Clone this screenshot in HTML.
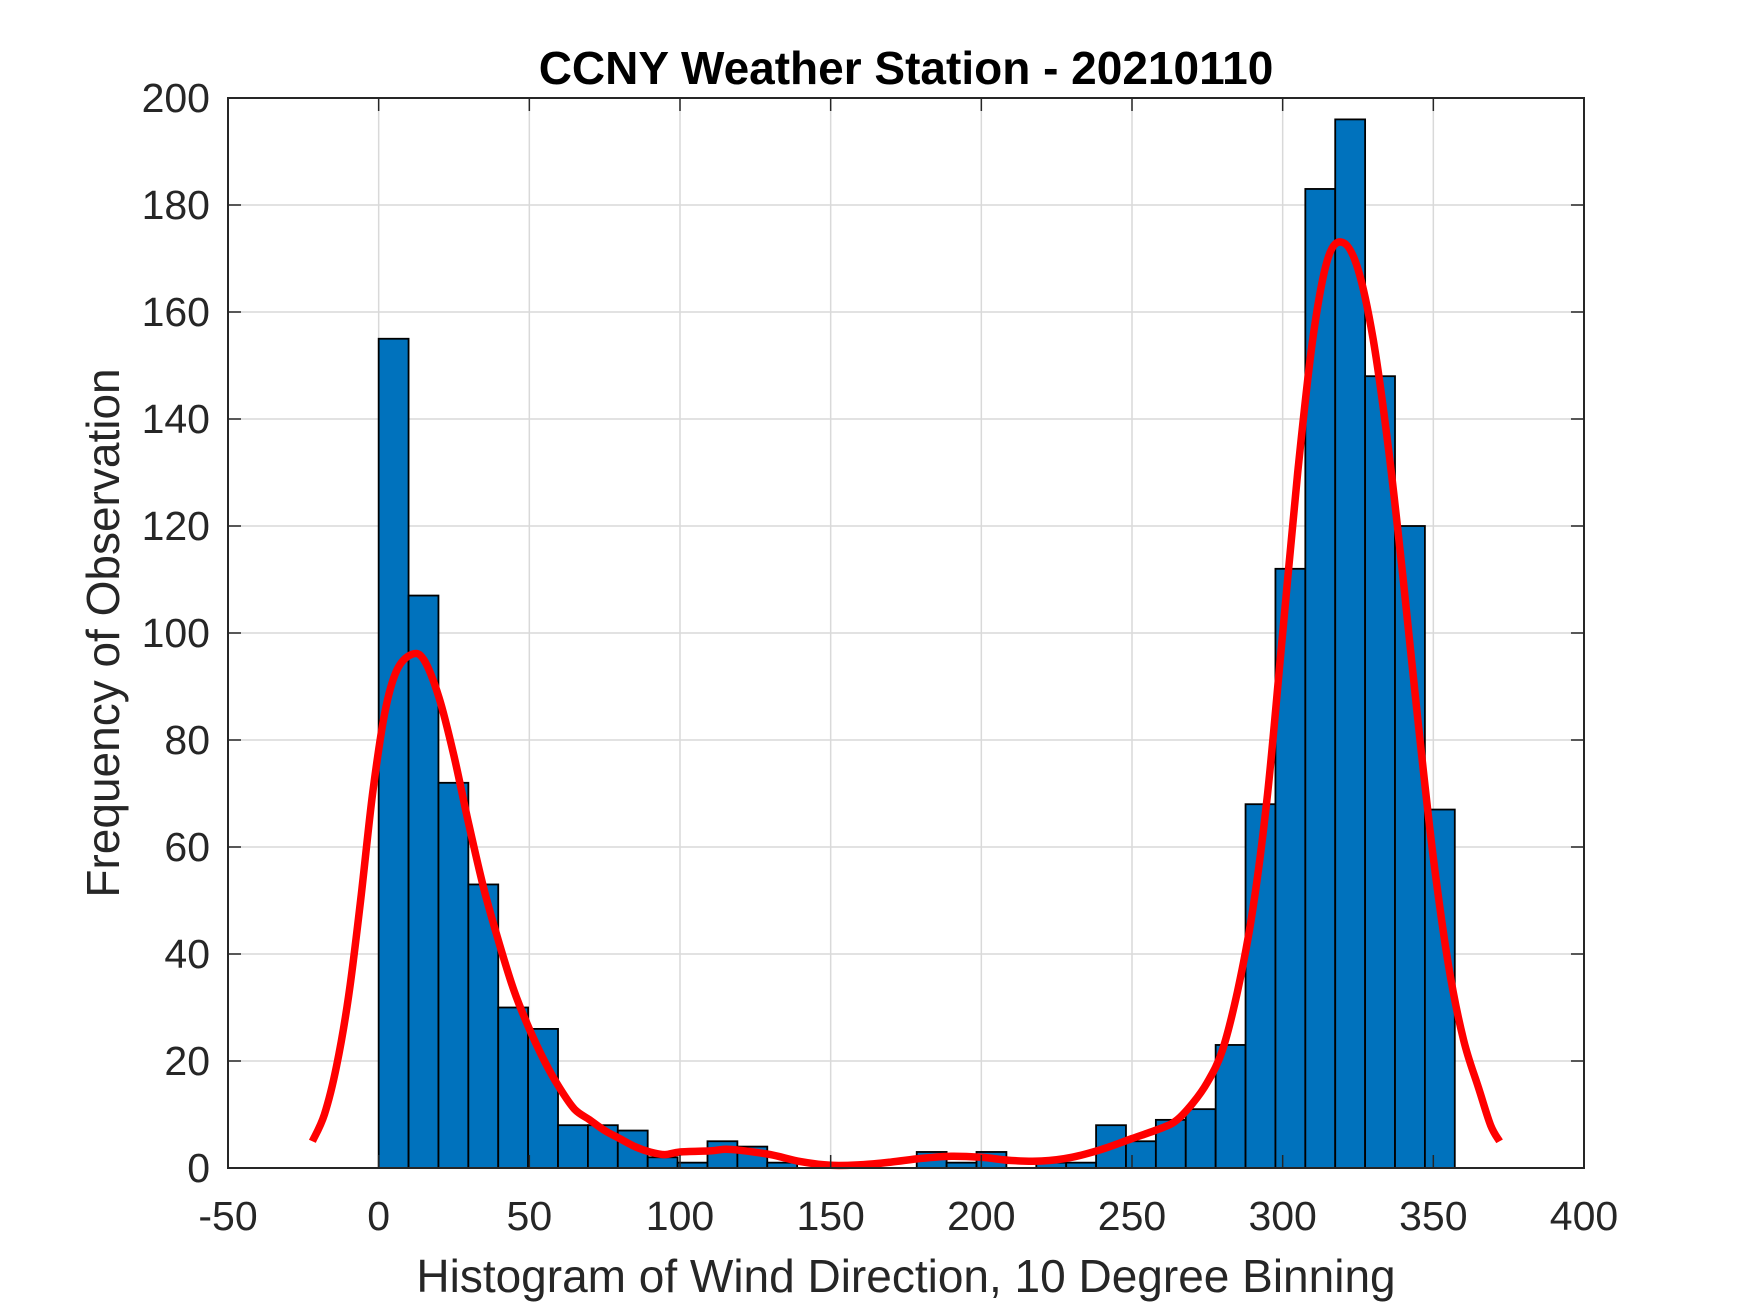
<!DOCTYPE html>
<html><head><meta charset="utf-8"><style>
html,body{margin:0;padding:0;background:#fff;}
svg{display:block;}
text{font-family:"Liberation Sans",Arial,sans-serif;fill:#262626;}
</style></head><body>
<svg id="chart" width="1750" height="1313" viewBox="0 0 1750 1313" xmlns="http://www.w3.org/2000/svg">
<rect width="1750" height="1313" fill="#fff"/>
<g id="grid"></g><g id="bars"></g><g id="curve"></g><g id="axes"></g>
</svg>
<script>
const binCounts = [155,107,72,53,30,26,8,8,7,2,1,5,4,1,0,0,0,0,3,1,3,0,1,1,8,5,9,11,23,68,112,183,196,148,120,67];
const binStart = 0;
const binWidth = 9.92;
const curveX = [-22,-18,-14,-10,-6,-2,2,6,11,15,20,25,30,35,40,45,50,55,60,65,70,75,80,85,90,95,100,110,115,120,130,140,150,160,170,180,190,200,210,220,230,240,250,260,265,270,275,280,285,290,295,300,305,310,315,320,325,330,335,340,345,350,355,360,365,369,372];
const curveY = [5,10,19,32,50,70,85,93,96,95,88,77,64,52,42,33,26,20,15,11,9,7,5.5,4,3,2.5,3,3.2,3.5,3.3,2.5,1.2,0.5,0.6,1.1,1.8,2.2,2,1.4,1.3,2,3.5,5.5,7.5,9,12,16,22,33,48,70,100,130,155,170,173,168,155,135,110,83,58,38,24,15,8,5];
const xTicks = [-50,0,50,100,150,200,250,300,350,400];
const yTicks = [0,20,40,60,80,100,120,140,160,180,200];

const L=228,R=1584,T=98,B=1168;
const xMin=-50,xMax=400,yMin=0,yMax=200;
const sx=v=>L+(v-xMin)/(xMax-xMin)*(R-L);
const sy=v=>B-(v-yMin)/(yMax-yMin)*(B-T);
const NS="http://www.w3.org/2000/svg";
function mk(tag,attrs,parent){const e=document.createElementNS(NS,tag);for(const k in attrs)e.setAttribute(k,attrs[k]);parent.appendChild(e);return e;}
const grid=document.getElementById('grid'),bars=document.getElementById('bars'),curve=document.getElementById('curve'),axes=document.getElementById('axes');

xTicks.forEach(t=>{
  const g=mk('line',{x1:sx(t),x2:sx(t),y1:T,y2:B,stroke:'#d9d9d9','stroke-width':1.5},grid);
  
  
});
yTicks.forEach(t=>{
  const g=mk('line',{x1:L,x2:R,y1:sy(t),y2:sy(t),stroke:'#d9d9d9','stroke-width':1.5},grid);
  
  
});

binCounts.forEach((c,i)=>{
  if(c<=0) return;
  const x0=sx(binStart+i*binWidth),x1=sx(binStart+(i+1)*binWidth);
  const r=mk('rect',{x:x0,y:sy(c),width:x1-x0,height:sy(0)-sy(c),fill:'#0072BD',stroke:'#000','stroke-width':1.8},bars);
  
  
});

// smooth curve (Catmull-Rom through data points)
const P=curveX.map((x,i)=>[sx(x),sy(curveY[i])]);
let d='M'+P[0][0].toFixed(1)+','+P[0][1].toFixed(1);
for(let i=0;i<P.length-1;i++){
  const p0=P[Math.max(0,i-1)],p1=P[i],p2=P[i+1],p3=P[Math.min(P.length-1,i+2)];
  const c1=[p1[0]+(p2[0]-p0[0])/6,p1[1]+(p2[1]-p0[1])/6];
  const c2=[p2[0]-(p3[0]-p1[0])/6,p2[1]-(p3[1]-p1[1])/6];
  d+=' C'+c1[0].toFixed(1)+','+c1[1].toFixed(1)+' '+c2[0].toFixed(1)+','+c2[1].toFixed(1)+' '+p2[0].toFixed(1)+','+p2[1].toFixed(1);
}
const pl=mk('path',{d:d,fill:'none',stroke:'#FF0000','stroke-width':7.5,'stroke-linejoin':'round','stroke-linecap':'butt'},curve);



const box=mk('rect',{x:L,y:T,width:R-L,height:B-T,fill:'none',stroke:'#262626','stroke-width':2},axes);



xTicks.forEach(t=>{
  mk('line',{x1:sx(t),x2:sx(t),y1:B,y2:B-13,stroke:'#262626','stroke-width':1.5},axes);
  mk('line',{x1:sx(t),x2:sx(t),y1:T,y2:T+13,stroke:'#262626','stroke-width':1.5},axes);
  const tx=mk('text',{x:sx(t),y:1230,'text-anchor':'middle','font-size':41},axes);
  tx.textContent=t;
  
  
});
yTicks.forEach(t=>{
  mk('line',{x1:L,x2:L+13,y1:sy(t),y2:sy(t),stroke:'#262626','stroke-width':1.5},axes);
  mk('line',{x1:R,x2:R-13,y1:sy(t),y2:sy(t),stroke:'#262626','stroke-width':1.5},axes);
  const ty=mk('text',{x:210,y:sy(t)+14,'text-anchor':'end','font-size':41},axes);
  ty.textContent=t;
  
  
});

const title=mk('text',{x:(L+R)/2,y:84,'text-anchor':'middle','font-size':46,'font-weight':'bold'},axes);
title.style.fill='#000';
title.textContent='CCNY Weather Station - 20210110';



const xl=mk('text',{x:(L+R)/2,y:1292,'text-anchor':'middle','font-size':46},axes);
xl.textContent='Histogram of Wind Direction, 10 Degree Binning';



const yl=mk('text',{x:0,y:0,'text-anchor':'middle','font-size':46,transform:'translate(119,633) rotate(-90)'},axes);
yl.textContent='Frequency of Observation';


</script>
</body></html>
